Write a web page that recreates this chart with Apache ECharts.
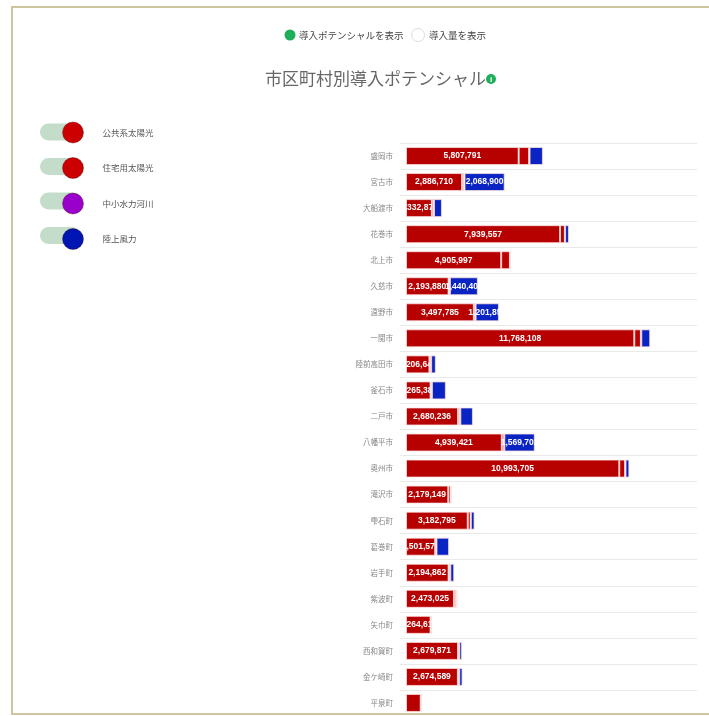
<!DOCTYPE html>
<html>
<head>
<meta charset="utf-8">
<script src="https://cdn.jsdelivr.net/npm/echarts@6/dist/echarts.min.js"></script>
<style>
  html, body { margin: 0; padding: 0; background: #fff; }
  #chart { width: 709px; height: 716px; }
</style>
</head>
<body>
<div id="chart"></div>
<script>
// 岩手県 市区町村別 再生可能エネルギー導入ポテンシャル (kW)
const municipalities = ['盛岡市','宮古市','大船渡市','花巻市','北上市','久慈市','遠野市','一関市','陸前高田市','釜石市','二戸市','八幡平市','奥州市','滝沢市','雫石町','葛巻町','岩手町','紫波町','矢巾町','西和賀町','金ケ崎町','平泉町'];

const publicSolar = [5807791, 2886710, 1332875, 7939557, 4905997, 2193880, 3497785, 11768108, 1206640, 1265380, 2680236, 4939421, 10993705, 2179149, 3182795, 1501577, 2194862, 2473025, 1264612, 2679871, 2674589, 758000];
const residentialSolar = [540000, 100000, 100000, 250000, 450000, 60000, 80000, 340000, 80000, 60000, 100000, 120000, 300000, 120000, 150000, 60000, 80000, 100000, 50000, 60000, 60000, 40000];
const smallHydro = [20000, 30000, 10000, 10000, 10000, 10000, 10000, 20000, 10000, 10000, 20000, 10000, 20000, 30000, 10000, 10000, 10000, 40000, 0, 10000, 10000, 0];
const onshoreWind = [690000, 2068900, 410000, 200000, 0, 1440404, 1201856, 460000, 240000, 720000, 650000, 1569702, 200000, 0, 190000, 650000, 200000, 50000, 0, 140000, 170000, 0];

const seriesNames = ['公共系太陽光', '住宅用太陽光', '中小水力河川', '陸上風力'];
const seriesValues = [publicSolar, residentialSolar, smallHydro, onshoreWind];
const barColors = ['#b70000', '#bb0000', '#9a00c8', '#0a24c4'];
const legendColors = ['#cc0000', '#cc0000', '#9900cc', '#0016b4'];

const chart = echarts.init(document.getElementById('chart'));
const cjk = '"Noto Sans CJK JP", "Noto Sans", sans-serif';

const fmt = v => (v >= 1000000 ? v.toLocaleString('en-US') : '');

const series = seriesNames.map((name, i) => ({
  name: name,
  type: 'bar',
  stack: 'total',
  z: 2 + i,
  barWidth: 18,
  data: seriesValues[i],
  itemStyle: {
    color: barColors[i],
    borderColor: 'rgba(255,225,225,0.75)',
    borderWidth: 1
  },
  label: {
    show: true,
    position: 'inside',
    color: '#fff',
    fontSize: 8.5,
    fontWeight: 'bold',
    fontFamily: '"Liberation Sans", Arial, sans-serif',
    formatter: p => fmt(p.value)
  },
  emphasis: { disabled: true }
}));

// toggle pills behind each legend circle
const legendTop = 121.5;
const legendStep = 34.5;
const pills = seriesNames.map((n, i) => ({
  type: 'rect',
  z: 0,
  shape: { x: 40, y: legendTop + 2 + i * legendStep, width: 40, height: 17, r: 8.5 },
  style: { fill: '#c3ddca' }
}));

chart.setOption({
  animation: false,
  backgroundColor: '#fff',
  title: {
    text: '市区町村別導入ポテンシャル',
    left: 265,
    top: 70,
    padding: 0,
    textStyle: { fontFamily: cjk, fontSize: 17, fontWeight: 'normal', color: '#666' }
  },
  legend: {
    orient: 'vertical',
    left: 62,
    top: legendTop,
    padding: 0,
    itemWidth: 21,
    itemHeight: 21,
    itemGap: legendStep - 21,
    icon: 'circle',
    selectedMode: false,
    itemStyle: { borderColor: 'rgba(60,0,0,0.35)', borderWidth: 1 },
    textStyle: { fontFamily: cjk, fontSize: 8.5, color: '#555', padding: [0, 0, 0, 14] },
    data: seriesNames.map((n, i) => ({ name: n, itemStyle: { color: legendColors[i] } }))
  },
  grid: { left: 406, top: 143, width: 291, height: 575, containLabel: false },
  xAxis: {
    type: 'value',
    min: 0,
    max: 15000000,
    show: false
  },
  yAxis: {
    type: 'category',
    inverse: true,
    data: municipalities,
    axisLine: { show: false },
    axisTick: { show: true, length: 6, lineStyle: { color: '#e9e9e9' } },
    splitLine: { show: true, lineStyle: { color: '#e9e9e9' } },
    axisLabel: { fontFamily: cjk, fontSize: 7.5, color: '#888', margin: 13 }
  },
  graphic: [
    // page frame
    { type: 'rect', z: 0, shape: { x: 12, y: 7, width: 720, height: 707 },
      style: { fill: 'none', stroke: '#cdc6a0', lineWidth: 2 } },
    // display mode radio buttons
    { type: 'circle', shape: { cx: 290, cy: 35, r: 5.5 }, style: { fill: '#1fae5a' } },
    { type: 'text', style: { x: 299, y: 35, text: '導入ポテンシャルを表示', font: '9.5px "Noto Sans CJK JP"', fill: '#444', verticalAlign: 'middle' } },
    { type: 'circle', shape: { cx: 418, cy: 35, r: 6.5 }, style: { fill: '#fff', stroke: '#dcdcdc', lineWidth: 1 } },
    { type: 'text', style: { x: 429, y: 35, text: '導入量を表示', font: '9.5px "Noto Sans CJK JP"', fill: '#444', verticalAlign: 'middle' } },
    // info mark beside the title
    { type: 'circle', shape: { cx: 491, cy: 79, r: 5 }, style: { fill: '#1fae5a' } },
    { type: 'text', style: { x: 491, y: 79.5, text: 'i', font: 'bold 8px "Liberation Sans"', fill: '#fff', align: 'center', verticalAlign: 'middle' } },
    ...pills
  ],
  series: series
});
</script>
</body>
</html>
